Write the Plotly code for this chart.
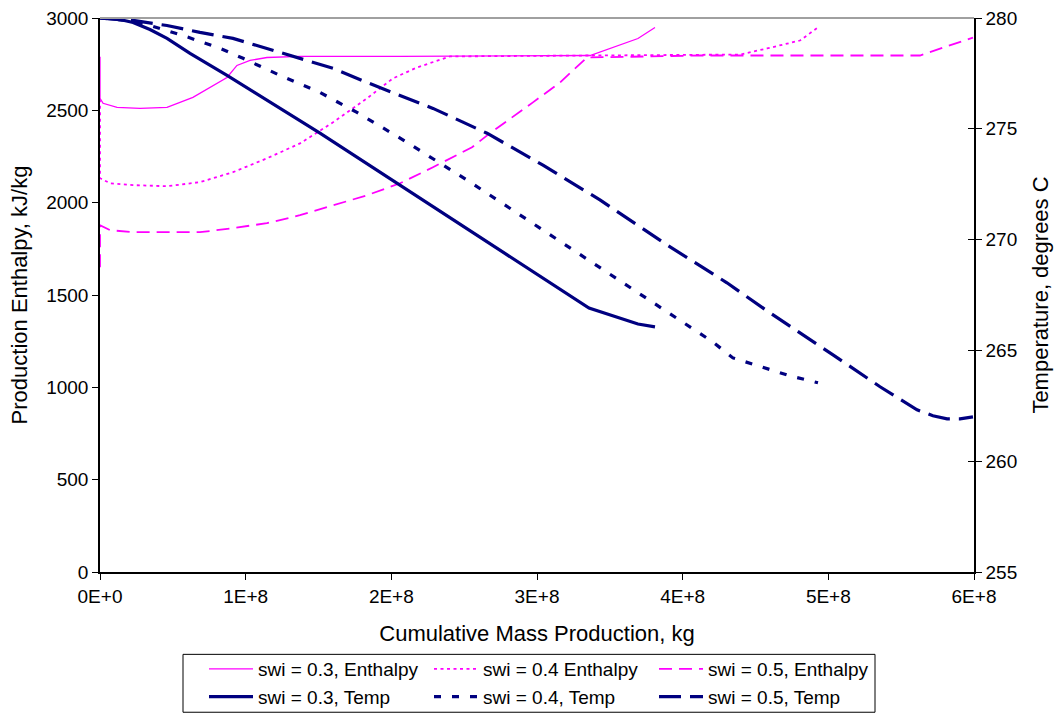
import plotly.graph_objects as go

# Cumulative mass production (units of 1E+8 kg) and production enthalpy (kJ/kg)
enth_03_x = [0, 0.0, 0.021, 0.069, 0.117, 0.275, 0.46, 0.638, 0.803, 0.872, 0.94, 1.03, 1.146, 1.373,
             2.06, 3.364, 3.693, 3.81]
enth_03_y = [2790, 2565, 2538, 2527, 2516, 2511, 2516, 2570, 2646, 2678, 2743, 2770, 2786, 2792,
             2792, 2797, 2889, 2949]

enth_04_x = [0, 0.0, 0.069, 0.227, 0.46, 0.686, 0.913, 1.146, 1.373, 1.6, 1.833, 2.011, 2.176, 2.403,
             3.364, 4.394, 4.579, 4.805, 4.929]
enth_04_y = [2560, 2133, 2105, 2095, 2089, 2111, 2165, 2240, 2321, 2435, 2565, 2673, 2732, 2792,
             2797, 2802, 2835, 2878, 2949]

enth_05_x = [0, 0.0, 0.069, 0.227, 0.46, 0.686, 0.913, 1.146, 1.373, 1.6, 1.833, 2.06, 2.286, 2.554,
             2.677, 2.972, 3.158, 3.343, 4.119, 5.629, 5.993]
enth_05_y = [1650, 1878, 1851, 1840, 1840, 1840, 1862, 1889, 1932, 1986, 2040, 2105, 2192, 2300,
             2376, 2543, 2651, 2786, 2797, 2797, 2894]

# Temperature (degrees C)
temp_03_x = [0, 0.137, 0.227, 0.343, 0.46, 0.618, 0.872, 1.51, 3.357, 3.693, 3.81]
temp_03_y = [280, 279.93, 279.80, 279.48, 279.08, 278.40, 277.41, 274.80, 266.91, 266.19, 266.06]

temp_04_x = [0, 0.172, 0.343, 0.57, 0.824, 0.982, 1.236, 1.51, 1.764, 2.06, 2.519, 3.02, 3.479,
             3.891, 4.207, 4.345, 4.482, 4.737, 4.929]
temp_04_y = [280, 279.89, 279.66, 279.21, 278.63, 278.18, 277.41, 276.64, 275.74, 274.58, 272.69,
             270.53, 268.54, 266.74, 265.38, 264.66, 264.39, 263.85, 263.54]

temp_05_x = [0, 0.227, 0.46, 0.686, 0.913, 1.146, 1.373, 1.6, 1.833, 2.06, 2.286, 2.657, 3.041,
             3.432, 3.892, 4.304, 4.6, 5.032, 5.355, 5.609, 5.718, 5.815, 5.904, 5.993]
temp_05_y = [280, 279.89, 279.66, 279.35, 279.08, 278.63, 278.18, 277.73, 277.09, 276.51, 275.92,
             274.8, 273.36, 271.79, 269.76, 268.05, 266.69, 264.80, 263.36, 262.32, 262.05, 261.91,
             261.91, 262.0]

x_tick_vals = [0, 1e8, 2e8, 3e8, 4e8, 5e8, 6e8]
x_tick_text = ["0E+0", "1E+8", "2E+8", "3E+8", "4E+8", "5E+8", "6E+8"]
y_tick_vals = [0, 500, 1000, 1500, 2000, 2500, 3000]
y2_tick_vals = [255, 260, 265, 270, 275, 280]

MAGENTA = "#FF00FF"
NAVY = "#000080"
FONT = "Liberation Sans, Arial, sans-serif"
TICK_SIZE = 19
TITLE_SIZE = 22

W, H = 1059, 715
M_L, M_R, M_T, M_B = 100, 85, 17.5, 142.5
PLOT_W = W - M_L - M_R
PLOT_H = H - M_T - M_B


def scale(xs):
    return [v * 1e8 for v in xs]


fig = go.Figure()

enth_series = [
    ("swi = 0.3, Enthalpy", enth_03_x, enth_03_y, "solid", 1.3),
    ("swi = 0.4 Enthalpy", enth_04_x, enth_04_y, "3px,3.5px", 1.8),
    ("swi = 0.5, Enthalpy", enth_05_x, enth_05_y, "13px,7px", 1.8),
]
for name, xs, ys, dash, w in enth_series:
    fig.add_trace(go.Scatter(x=scale(xs), y=ys, name=name, mode="lines",
                             line=dict(color=MAGENTA, width=w, dash=dash),
                             yaxis="y"))

temp_series = [
    ("swi = 0.3, Temp", temp_03_x, temp_03_y, "solid"),
    ("swi = 0.4, Temp", temp_04_x, temp_04_y, "7px,11px"),
    ("swi = 0.5, Temp", temp_05_x, temp_05_y, "22px,9px"),
]
for name, xs, ys, dash in temp_series:
    fig.add_trace(go.Scatter(x=scale(xs), y=ys, name=name, mode="lines",
                             line=dict(color=NAVY, width=3.2, dash=dash),
                             yaxis="y2"))

# empty trace so the inner tick marks of the right axis get drawn
fig.add_trace(go.Scatter(x=[None], y=[None], yaxis="y3", showlegend=False,
                         hoverinfo="skip"))

fig.update_layout(
    width=W, height=H,
    margin=dict(l=M_L, r=M_R, t=M_T, b=M_B, autoexpand=False),
    paper_bgcolor="white", plot_bgcolor="white",
    font=dict(family=FONT, size=TICK_SIZE, color="black"),
    showlegend=True,
    legend=dict(orientation="h", xref="container", x=204 / W, xanchor="left",
                yref="container", y=(H - 650) / H, yanchor="top",
                borderwidth=0, bgcolor="rgba(0,0,0,0)",
                font=dict(size=19, family=FONT),
                entrywidth=166, entrywidthmode="pixels",
                tracegroupgap=0, itemwidth=44),
    xaxis=dict(range=[0, 6e8], tickvals=x_tick_vals, ticktext=x_tick_text,
               showgrid=False, zeroline=False, showline=True, linecolor="black",
               linewidth=1.5, ticks="outside", ticklen=6, tickcolor="black",
               tickfont=dict(size=TICK_SIZE),
               title=dict(text="Cumulative Mass Production, kg", font=dict(size=TITLE_SIZE),
                          standoff=20)),
    yaxis=dict(range=[0, 3000], tickvals=y_tick_vals, showgrid=False, zeroline=False,
               showline=True, linecolor="black", linewidth=1.5, ticks="outside",
               ticklen=6, tickcolor="black", tickfont=dict(size=TICK_SIZE),
               title=dict(text="Production Enthalpy, kJ/kg", font=dict(size=TITLE_SIZE),
                          standoff=12)),
    yaxis2=dict(range=[255, 280], tickvals=y2_tick_vals, overlaying="y", side="right",
                anchor="x", showgrid=False, zeroline=False, showline=True,
                linecolor="black", linewidth=1.5, ticks="outside", ticklen=6,
                tickcolor="black", tickfont=dict(size=TICK_SIZE),
                title=dict(text="Temperature, degrees C", font=dict(size=TITLE_SIZE),
                           standoff=16)),
    yaxis3=dict(range=[255, 280], tickvals=y2_tick_vals, overlaying="y", side="right",
                anchor="x", showgrid=False, zeroline=False, showline=False,
                ticks="inside", ticklen=6, tickcolor="black", showticklabels=False),
)

# light grey top edge of the plot area
fig.add_shape(type="line", xref="paper", yref="paper", x0=0, x1=1, y0=1, y1=1,
              line=dict(color="#A0A0A0", width=2))

# legend frame (pixel box converted to paper coordinates)
box_l, box_r, box_t, box_b = 183, 875, 655, 713
fig.add_shape(type="rect", xref="paper", yref="paper",
              x0=(box_l - M_L) / PLOT_W, x1=(box_r - M_L) / PLOT_W,
              y0=(H - M_B - box_b) / PLOT_H, y1=(H - M_B - box_t) / PLOT_H,
              line=dict(color="black", width=1), fillcolor="rgba(0,0,0,0)",
              layer="below")

fig.write_html("out.html")
